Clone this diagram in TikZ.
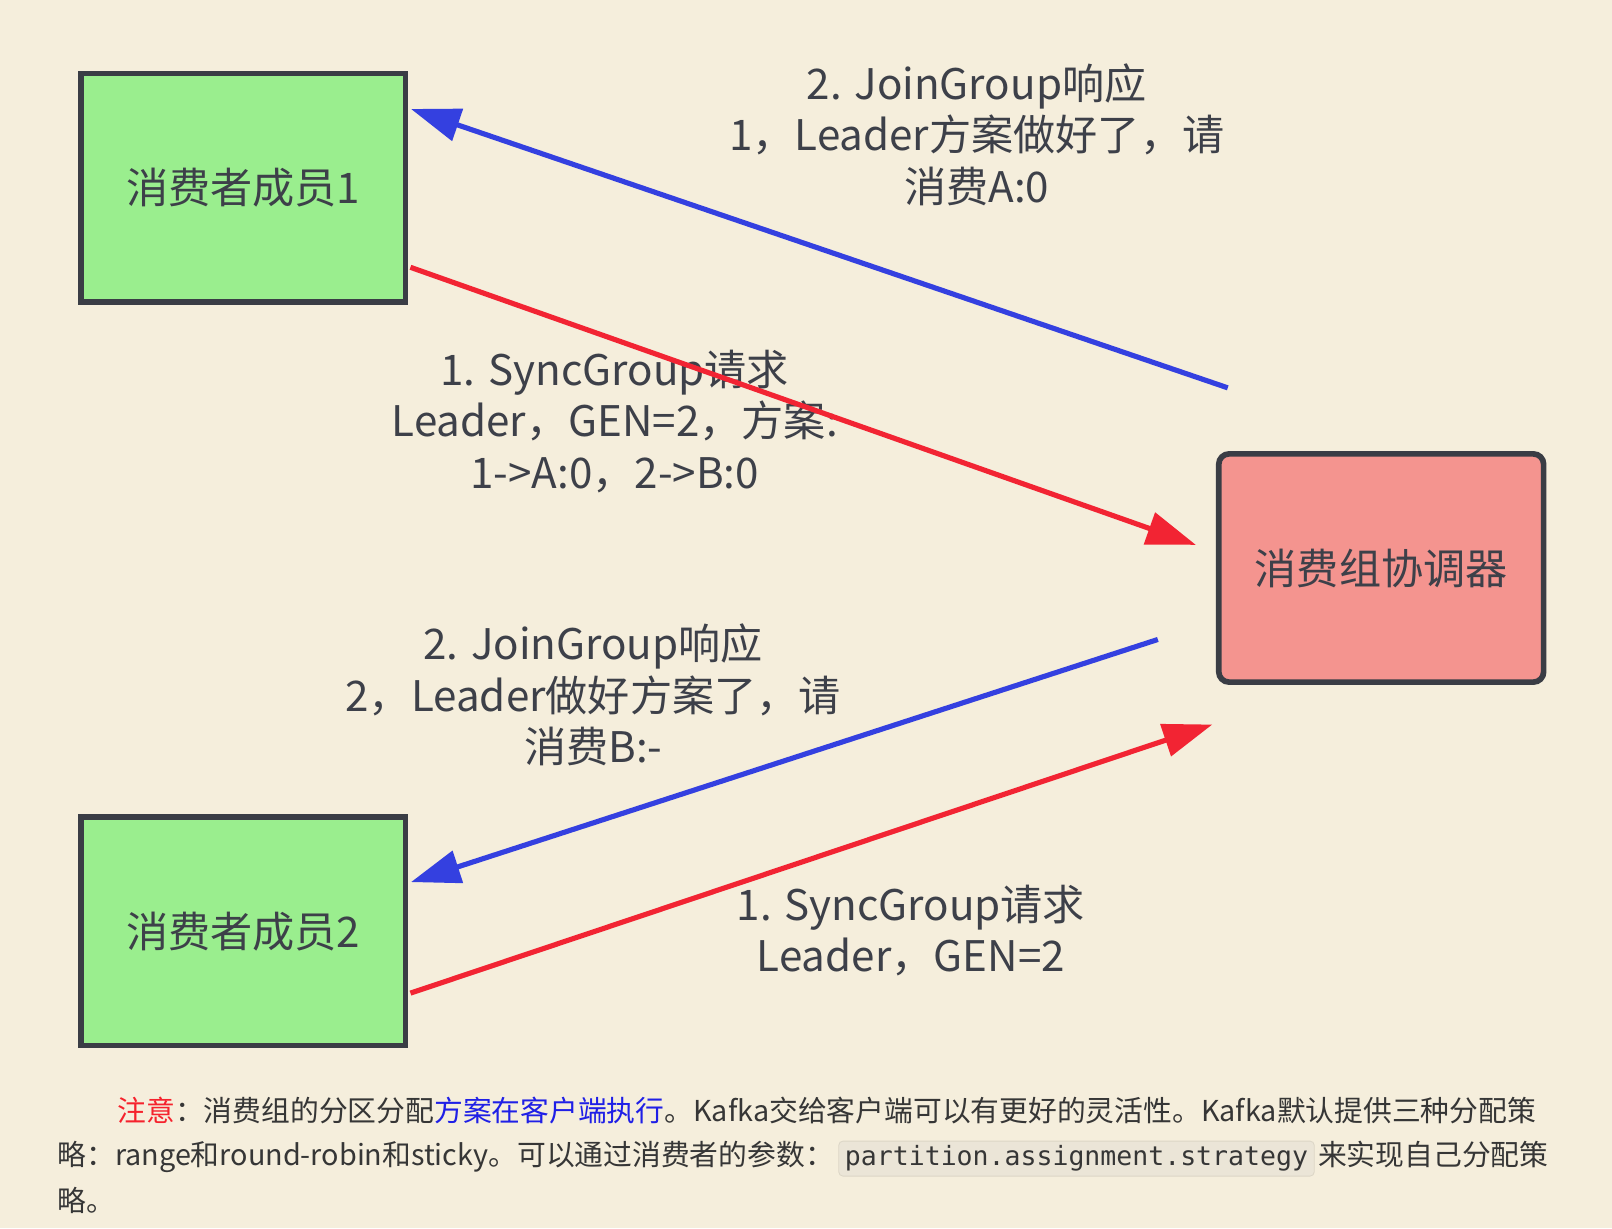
\documentclass[tikz,border=0pt]{standalone}
\usepackage{fontspec}
\setmainfont{Noto Sans CJK SC}
\setmonofont{DejaVu Sans Mono}
\usetikzlibrary{positioning,arrows.meta,calc}
\definecolor{paper}{HTML}{F5EEDC}
\definecolor{membergreen}{HTML}{9AEE8E}
\definecolor{coordred}{HTML}{F4948F}
\definecolor{edgegray}{HTML}{3A3D45}
\definecolor{textgray}{HTML}{3D4049}
\definecolor{notegray}{HTML}{363636}
\definecolor{joinblue}{HTML}{3440E0}
\definecolor{syncred}{HTML}{F22433}
\definecolor{notered}{HTML}{F5222D}
\definecolor{noteblue}{HTML}{1F1FE6}
\definecolor{codefill}{HTML}{EBE5D7}
\definecolor{codeline}{HTML}{DCD6C6}
\tikzset{
    x=0.5pt,
    y=-0.5pt,
    member/.style = {
        draw=edgegray,
        fill=membergreen,
        shape=rectangle,
        minimum width=158pt,
        minimum height=111pt,
        line width=2.75pt,
        text=textgray,
        font=\fontsize{20.5pt}{25pt}\selectfont
    },
    coordinator/.style = {
        member,
        fill=coordred,
        rounded corners=5pt
    },
    msglabel/.style = {
        align=center,
        inner sep=0pt,
        text=textgray,
        font=\fontsize{20.5pt}{25pt}\selectfont
    },
    joinmsg/.style = {
        draw=joinblue,
        line width=2.5pt
    },
    syncmsg/.style = {
        draw=syncred,
        line width=2.5pt
    },
    notetext/.style = {
        anchor=base west,
        inner sep=0pt,
        text=notegray,
        font=\fontsize{14pt}{21.7pt}\selectfont
    },
    codebox/.style = {
        draw=codeline,
        fill=codefill,
        rounded corners=2pt,
        inner xsep=3pt,
        inner ysep=0pt,
        minimum height=17pt,
        text=notegray,
        font=\fontsize{12.9pt}{15pt}\ttfamily
    },
    >={Triangle[length=24pt,width=16pt]},
}

\begin{document}
\begin{tikzpicture}

            \useasboundingbox[fill=paper] (0,0) rectangle (1568,1194.5);

            \node[member] (member1) at (236.5,182.5) {消费者成员1};
            \node[member] (member2) at (236.5,906) {消费者成员2};
            \node[coordinator] (coord) at (1343.5,552.5) {消费组协调器};

            \node[msglabel] (join1) at (950,131) {2. JoinGroup响应\\1，Leader方案做好了，请\\消费A:0};
            \node[msglabel] (sync1) at (598,410) {1. SyncGroup请求\\Leader，GEN=2，方案:\\1->A:0，2->B:0};
            \node[msglabel] (join2) at (577,676) {2. JoinGroup响应\\2，Leader做好方案了，请\\消费B:-};
            \node[msglabel] (sync2) at (886,905) {1. SyncGroup请求\\Leader，GEN=2};

            \path[joinmsg, ->] ($(coord.north west)+(11.5,-61.5)$) -- ($(member1.east)+(2.5,-76.5)$);
            \path[syncmsg, ->] ($(member1.east)+(2,77.5)$) -- ($(coord.west)+(-19.5,-22.5)$);
            \path[joinmsg, ->] ($(coord.west)+(-56.5,69.5)$) -- ($(member2.east)+(2.5,-48)$);
            \path[syncmsg, ->] ($(member2.east)+(2,60)$) -- ($(coord.south west)+(-3.5,38.5)$);

            \node[notetext] (note1) at (114,1091) {\textcolor{notered}{注意}：消费组的分区分配\textcolor{noteblue}{方案在客户端执行}。Kafka交给客户端可以有更好的灵活性。Kafka默认提供三种分配策};
            \node[notetext] (note2) at (55.5,1134) {略：range和round-robin和sticky。可以通过消费者的参数：};
            \node[codebox, base right=2pt of note2] (strategy) {partition.assignment.strategy};
            \node[notetext, base right=1.5pt of strategy] (note2b) {来实现自己分配策};
            \node[notetext] (note3) at (55.5,1178) {略。};

\end{tikzpicture}
\end{document}
